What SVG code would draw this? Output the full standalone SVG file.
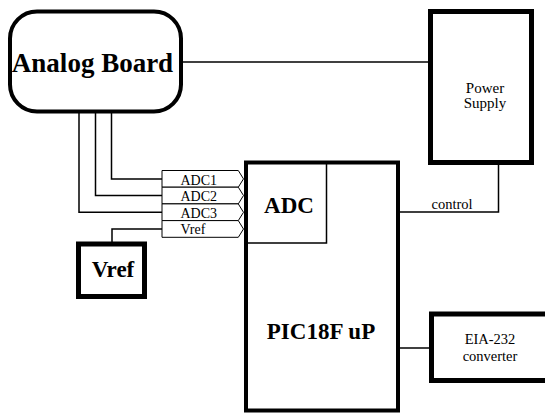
<svg xmlns="http://www.w3.org/2000/svg" width="545" height="414" viewBox="0 0 545 414" font-family="'Liberation Serif', 'Times New Roman', Times, 'DejaVu Serif', serif">
<style>
.box{fill:#fff;stroke:#000}
.thick{stroke-width:5}
.med{stroke-width:4}
.wire{fill:none;stroke:#000;stroke-width:1.5}
.tag{fill:#fff;stroke:#000;stroke-width:1}
text{font-family:'Liberation Serif','Times New Roman',Times,'DejaVu Serif',serif}
.big{font-weight:bold;fill:#000}
.small{font-size:14.5px;fill:#000}
</style>
<rect width="545" height="414" fill="#fff"/>
<g id="connectors">
<path class="wire" d="M183,62 H428"/>
<path class="wire" d="M111.5,113 V178.9 H162"/>
<path class="wire" d="M95.5,113 V195.5 H162"/>
<path class="wire" d="M79,113 V212.3 H162"/>
<path class="wire" d="M112,242 V229 H162"/>
<path class="wire" d="M400,212 H498.5 V165"/>
<path class="wire" d="M400,348 H429"/>
<text class="small" x="431.5" y="209">control</text>
</g>
<g id="bus-labels">
<polygon class="tag" points="162,170.5 238.3,170.5 243.5,178.9 238.3,187.2 162,187.2"/>
<polygon class="tag" points="162,187.2 238.3,187.2 243.5,195.5 238.3,203.9 162,203.9"/>
<polygon class="tag" points="162,203.9 238.3,203.9 243.5,212.3 238.3,220.6 162,220.6"/>
<polygon class="tag" points="162,220.6 238.3,220.6 243.5,229 238.3,237.3 162,237.3"/>
<text class="small" style="font-size:14px" x="180.5" y="184.7">ADC1</text>
<text class="small" style="font-size:14px" x="180.5" y="201">ADC2</text>
<text class="small" style="font-size:14px" x="180.5" y="217.5">ADC3</text>
<text class="small" style="font-size:14px" x="180.5" y="233.5">Vref</text>
</g>
<g id="analog-board">
<rect class="box med" x="10" y="11.5" width="171" height="100" rx="27" ry="27"/>
<text class="big" style="font-size:27px" x="92.5" y="72" text-anchor="middle">Analog Board</text>
</g>
<g id="power-supply">
<rect class="box thick" x="430.5" y="11.5" width="101" height="151"/>
<text class="small" style="font-size:15px" x="485" y="92.5" text-anchor="middle">Power</text>
<text class="small" style="font-size:15px" x="485" y="108" text-anchor="middle">Supply</text>
</g>
<g id="vref">
<rect class="box thick" x="78.5" y="244" width="66" height="52.5"/>
<text class="big" style="font-size:23px" x="113" y="277" text-anchor="middle">Vref</text>
</g>
<g id="pic">
<rect class="box med" x="246" y="162.5" width="152" height="248"/>
<text class="big" style="font-size:23px" x="321" y="339" text-anchor="middle">PIC18F uP</text>
</g>
<g id="adc">
<path class="wire" d="M326.5,164 V243 H248"/>
<text class="big" style="font-size:23px" x="289" y="213" text-anchor="middle">ADC</text>
</g>
<g id="eia-232">
<rect class="box thick" x="431.5" y="314" width="120" height="66.5"/>
<text class="small" x="490" y="344" text-anchor="middle">EIA-232</text>
<text class="small" x="490" y="361" text-anchor="middle">converter</text>
</g>
</svg>
